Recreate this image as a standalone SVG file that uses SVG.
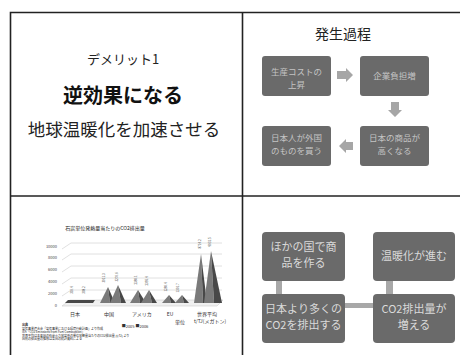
<svg xmlns="http://www.w3.org/2000/svg" width="460" height="355" viewBox="0 0 460 355">
<style>
text{font-family:"Noto Sans CJK JP","Noto Sans",sans-serif;text-anchor:middle}
.frame{stroke:#222;stroke-width:1.6;fill:none}
.box{fill:#6a6a6a}
.bt{fill:#c4c4c4;font-size:8.5px}
.bt2{fill:#dadada;font-size:11px}
.arr{fill:#a6a6a6}
.con{fill:#a8a8a8}
.grid{stroke:#d8d8d8;stroke-width:0.8;fill:none}
.yl{font-size:4px;fill:#444;text-anchor:end}
.xl{font-size:5px;fill:#333}
.dl{font-size:3px;fill:#333}
.note{font-size:3px;fill:#222;text-anchor:start}
.pl{fill:#7a7a7a}
.pd{fill:#484848}
</style>
<rect width="460" height="355" fill="#fff"/>
<g id="frame">
<path class="frame" d="M10.5,355 V12.5 H460"/>
<path class="frame" d="M242.5,12.5 V355"/>
<path class="frame" d="M10.5,196 H460"/>
</g>

<g id="panel1">
<text x="123" y="64" font-size="13" fill="#222">デメリット1</text>
<text x="123" y="103" font-size="20" font-weight="700" fill="#111">逆効果になる</text>
<text x="124" y="136" font-size="17.5" fill="#222">地球温暖化を加速させる</text>
</g>

<g id="panel2">
<text x="343" y="39" font-size="14" fill="#222">発生過程</text>
<g id="p2box1"><rect class="box" x="262" y="56" width="69" height="40" rx="3"/><text class="bt" x="296.5" y="75">生産コストの</text><text class="bt" x="296.5" y="88">上昇</text></g>
<g id="p2box2"><rect class="box" x="360" y="56" width="69" height="40" rx="3"/><text class="bt" x="394.5" y="79">企業負担増</text></g>
<g id="p2box3"><rect class="box" x="360" y="126" width="69" height="40" rx="3"/><text class="bt" x="394.5" y="141">日本の商品が</text><text class="bt" x="394.5" y="154">高くなる</text></g>
<g id="p2box4"><rect class="box" x="262" y="126" width="69" height="40" rx="3"/><text class="bt" x="296.5" y="141">日本人が外国</text><text class="bt" x="296.5" y="154">のものを買う</text></g>
<g id="p2arrows">
<polygon class="arr" points="337,71 346,71 346,68 353,75 346,82 346,79 337,79"/>
<polygon class="arr" points="391,102 399,102 399,110 402,110 395,117 388,110 391,110"/>
<polygon class="arr" points="353,142 346,142 346,139 339,146 346,153 346,150 353,150"/>
</g>
</g>

<g id="panel3">
<text x="105" y="230" font-size="5" fill="#222">石炭単位発熱量当たりのCO2排出量</text>
<g id="gridlines">
<path class="grid" d="M62,249 L71,243 H222"/>
<path class="grid" d="M62,260 L71,254 H222"/>
<path class="grid" d="M62,272 L71,266 H222"/>
<path class="grid" d="M62,284 L71,278 H222"/>
<path class="grid" d="M62,296 L71,290 H222"/>
<polygon points="62,306 70,300 223,300 217,306" fill="#f0f0f0" stroke="#cfcfcf" stroke-width="0.6"/>
</g>
<text class="yl" x="57" y="248">10000</text>
<text class="yl" x="57" y="259">8000</text>
<text class="yl" x="57" y="271">6000</text>
<text class="yl" x="57" y="283">4000</text>
<text class="yl" x="57" y="295">2000</text>
<text class="yl" x="57" y="307">0</text>
<g id="bars">
<polygon class="pd" points="65,303 93,303 95,300 68,300"/>
<polygon class="pl" points="100,303 108,287 110,303"/>
<polygon class="pd" points="108,287 115,303 110,303"/>
<polygon class="pl" points="110,303 118,285 121,303"/>
<polygon class="pd" points="118,285 126,303 121,303"/>
<polygon class="pl" points="130,303 138,290 140,303"/>
<polygon class="pd" points="138,290 146,303 140,303"/>
<polygon class="pl" points="141,303 149,290 152,303"/>
<polygon class="pd" points="149,290 157,303 152,303"/>
<polygon class="pl" points="162,303 169,295 171,303"/>
<polygon class="pd" points="169,295 176,303 171,303"/>
<polygon class="pl" points="175,303 182,295 184,303"/>
<polygon class="pd" points="182,295 189,303 184,303"/>
<polygon class="pl" points="194,303 201,254 203,303"/>
<polygon class="pd" points="201,254 207,303 203,303"/>
<polygon class="pl" points="204,303 211,251 214,303"/>
<polygon class="pd" points="211,251 222,303 214,303"/>
</g>
<g id="datalabels">
<text class="dl" transform="translate(73,290) rotate(-90)">310.4</text>
<text class="dl" transform="translate(85,290) rotate(-90)">308.2</text>
<text class="dl" transform="translate(105,278) rotate(-90)">3011.3</text>
<text class="dl" transform="translate(118,277) rotate(-90)">3270.6</text>
<text class="dl" transform="translate(137,280) rotate(-90)">2380.1</text>
<text class="dl" transform="translate(148,281) rotate(-90)">2395.4</text>
<text class="dl" transform="translate(167,287) rotate(-90)">1280.4</text>
<text class="dl" transform="translate(179,288) rotate(-90)">1301.7</text>
<text class="dl" transform="translate(201,244) rotate(-90)">8714.2</text>
<text class="dl" transform="translate(211,242) rotate(-90)">9031.5</text>
</g>
<text class="xl" x="75" y="316">日本</text>
<text class="xl" x="109" y="316">中国</text>
<text class="xl" x="142" y="316">アメリカ</text>
<text class="xl" x="170" y="316">EU</text>
<text class="xl" x="180" y="324">単位</text>
<text class="xl" x="207" y="316">世界平均</text>
<text class="xl" x="210" y="323">t/TJ(メガトン)</text>
<text x="135" y="328" font-size="4" fill="#333">■2005 ■2006</text>
<g id="notes">
<text class="note" x="22" y="326" font-weight="700">出典</text>
<text class="note" x="22" y="329.5">電気事業連合会「電気事業における環境行動計画」より作成</text>
<text class="note" x="22" y="333">IEA「CO2 Emissions from Fuel Combustion」</text>
<text class="note" x="22" y="336.5">世界平均は主要国の石炭火力発電所の単位発熱量当たりのCO2排出量 (t/TJ) より</text>
<text class="note" x="22" y="340">国別の排出量の推移は各国の統計資料による</text>
</g>
</g>

<g id="panel4">
<g id="connectors">
<rect class="con" x="276" y="281" width="6" height="13"/>
<rect class="con" x="386" y="281" width="7" height="13"/>
<rect class="con" x="345" y="303" width="28" height="5"/>
</g>
<g id="boxA"><rect class="box" x="262" y="232" width="83" height="49" rx="4"/><text class="bt2" x="303.5" y="251">ほかの国で商</text><text class="bt2" x="303.5" y="267">品を作る</text></g>
<g id="boxB"><rect class="box" x="373" y="232" width="82" height="49" rx="4"/><text class="bt2" x="414" y="260">温暖化が進む</text></g>
<g id="boxC"><rect class="box" x="262" y="294" width="83" height="49" rx="4"/><text class="bt2" x="303.5" y="313">日本より多くの</text><text class="bt2" x="303.5" y="329">CO2を排出する</text></g>
<g id="boxD"><rect class="box" x="373" y="294" width="82" height="49" rx="4"/><text class="bt2" x="414" y="313">CO2排出量が</text><text class="bt2" x="414" y="329">増える</text></g>
</g>
</svg>
